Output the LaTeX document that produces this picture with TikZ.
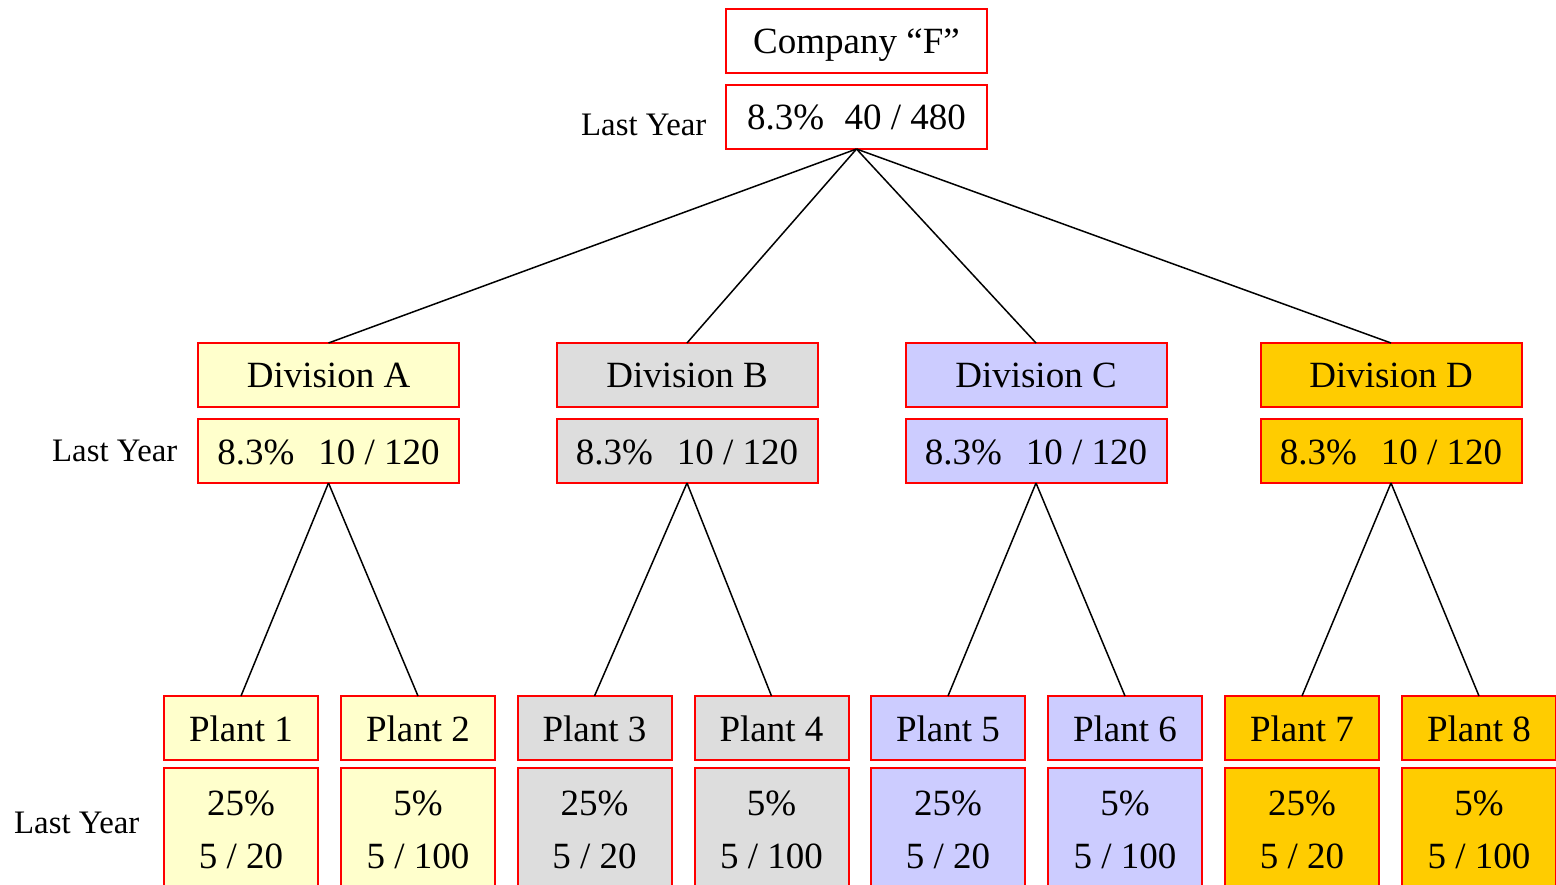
\documentclass[tikz,border=0pt]{standalone}
\usepackage{fontspec}
\setmainfont{Liberation Serif}
\definecolor{fillA}{HTML}{FFFFCC}
\definecolor{fillB}{HTML}{DDDDDD}
\definecolor{fillC}{HTML}{CCCCFF}
\definecolor{fillD}{HTML}{FFCC00}
\begin{document}
\begin{tikzpicture}[x=1pt,y=-1pt,
  box/.style={draw=red, line width=2pt, rectangle, minimum width=261pt,
    minimum height=64pt, inner sep=0pt, outer sep=0pt,
    text height=30pt, text depth=4pt, font=\fontsize{37}{44}\selectfont},
  plantbox/.style={box, minimum width=154pt},
  plantdata/.style={draw=red, line width=2pt, rectangle, minimum width=154pt,
    inner sep=0pt, outer sep=0pt, anchor=north, align=center,
    text height=100pt, text depth=24pt, font=\fontsize{37}{53}\selectfont},
  tag/.style={font=\fontsize{32.8}{38}\selectfont, inner sep=0pt, anchor=base west},
  link/.style={line width=1.5pt, black}]
\useasboundingbox (0,0) rectangle (1556,885);
\clip (0,0) rectangle (1556,885);

% company
\node[box] (co) at (856.5,41) {Company “F”};
\node[box] (coval) at (856.5,117) {8.3\%\hspace{0.55em}40 / 480};
\node[tag] (lyTop) at (581,136) {Last Year};

% divisions
\foreach \n/\x/\c in {A/328.5/fillA, B/687/fillB, C/1036/fillC, D/1391/fillD}{
  \node[box, fill=\c] (d\n) at (\x,375) {Division \n};
  \node[box, fill=\c] (d\n val) at (\x,451) {8.3\%\hspace{0.65em}10 / 120};
}
\node[tag] (lyMid) at (52,461) {Last Year};

% plants
\foreach \n/\x/\c/\p/\r in {1/241/fillA/25/20, 2/418/fillA/5/100,
    3/594.5/fillB/25/20, 4/771.5/fillB/5/100,
    5/948/fillC/25/20, 6/1125/fillC/5/100,
    7/1302/fillD/25/20, 8/1479/fillD/5/100}{
  \node[plantbox, fill=\c] (p\n) at (\x,728) {Plant \n};
  \node[plantdata, fill=\c] (p\n val) at (\x,768) {\p\%\\5 / \r};
}
\node[tag] (lyBot) at (14,833) {Last Year};

% links
\foreach \n in {A,B,C,D}{
  \draw[link] (coval.south) -- (d\n.north);
}
\draw[link] (dAval.south) -- (p1.north);
\draw[link] (dAval.south) -- (p2.north);
\draw[link] (dBval.south) -- (p3.north);
\draw[link] (dBval.south) -- (p4.north);
\draw[link] (dCval.south) -- (p5.north);
\draw[link] (dCval.south) -- (p6.north);
\draw[link] (dDval.south) -- (p7.north);
\draw[link] (dDval.south) -- (p8.north);
\end{tikzpicture}
\end{document}
